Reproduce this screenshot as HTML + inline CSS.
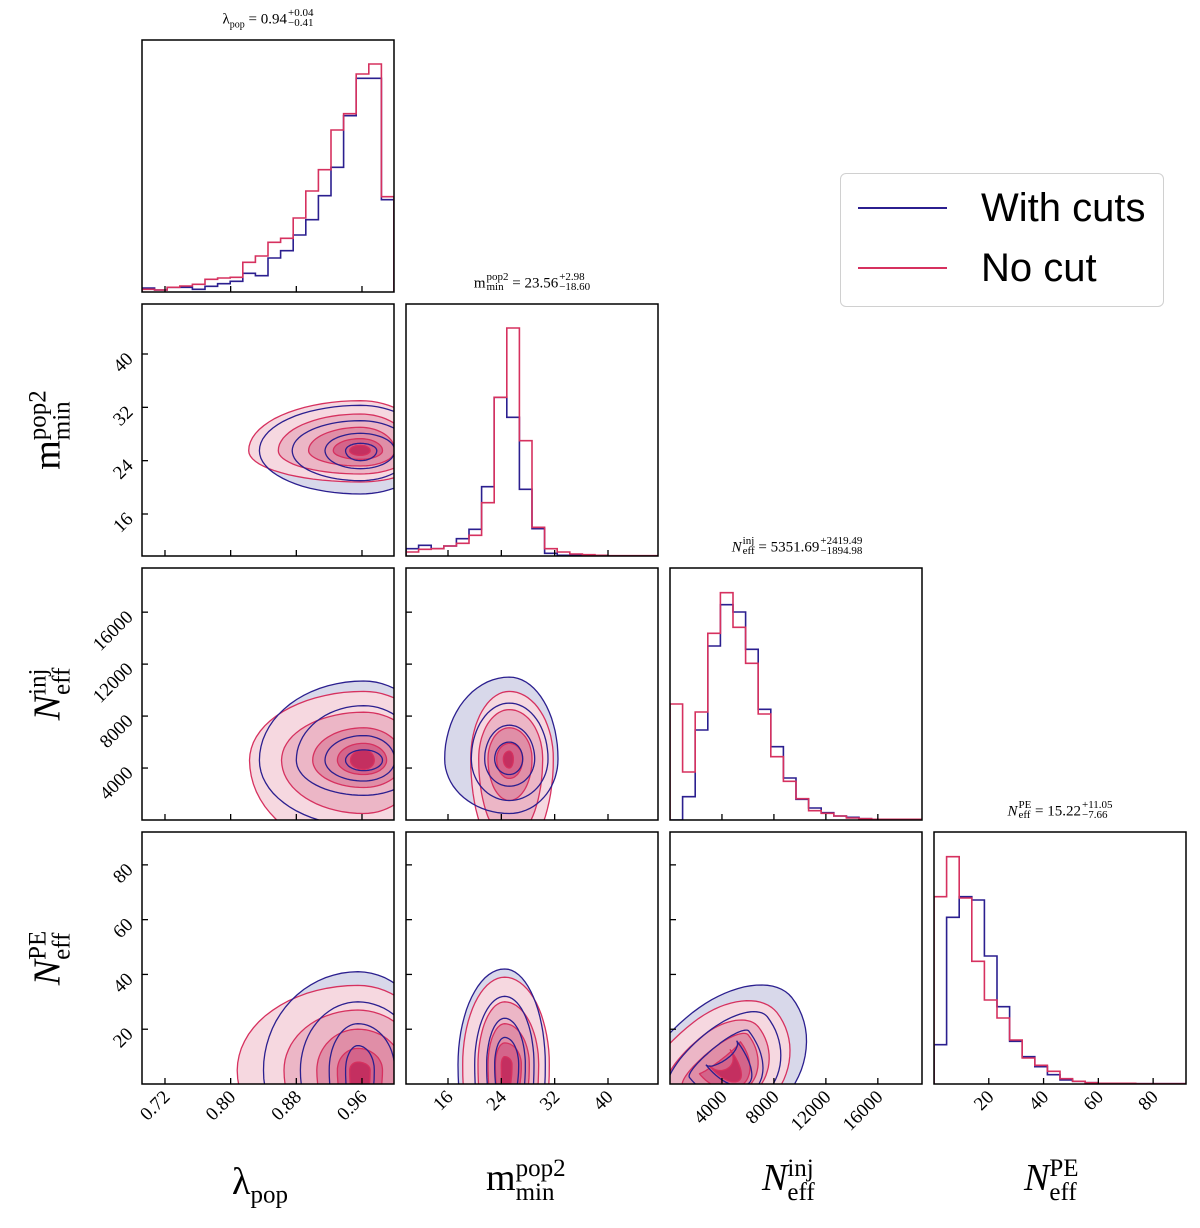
<!DOCTYPE html>
<html><head><meta charset="utf-8">
<style>
html,body{margin:0;padding:0;background:#fff;}
body{width:1200px;height:1228px;position:relative;overflow:hidden;font-family:"Liberation Serif",serif;}
.t{position:absolute;font-size:15px;white-space:nowrap;transform:translateX(-50%);color:#000;}
.t sub.s{font-size:10px;}
.pm{display:inline-block;vertical-align:middle;line-height:10px;font-size:11px;margin-left:1px;position:relative;top:-2px}
.pm span{display:block}
.lab{position:absolute;font-size:38px;white-space:nowrap;color:#000;}
.lab .ss{display:inline-block;vertical-align:middle;line-height:24px;font-size:25px;}
.lab .ss span{display:block}
.legend{position:absolute;left:840px;top:173px;width:324px;height:134px;border:1.5px solid #d0d0d0;border-radius:6px;background:#fff;box-sizing:border-box;}
.legend .ln{position:absolute;left:17px;width:89px;height:1.6px;}
.legend .tx{position:absolute;left:140px;font-family:"Liberation Sans",sans-serif;font-size:40px;color:#000;}
</style></head>
<body>
<svg id="chart" width="1200" height="1228" style="position:absolute;left:0;top:0"></svg>

<div class="t" style="left:268px;top:10px">λ<sub class="s">pop</sub> = 0.94<span class="pm"><span>+0.04</span><span>−0.41</span></span></div>
<div class="t" style="left:532px;top:274px">m<span class="pm"><span>pop2</span><span>min</span></span> = 23.56<span class="pm"><span>+2.98</span><span>−18.60</span></span></div>
<div class="t" style="left:797px;top:538px"><i>N</i><span class="pm"><span>inj</span><span>eff</span></span> = 5351.69<span class="pm"><span>+2419.49</span><span>−1894.98</span></span></div>
<div class="t" style="left:1060px;top:802px"><i>N</i><span class="pm"><span>PE</span><span>eff</span></span> = 15.22<span class="pm"><span>+11.05</span><span>−7.66</span></span></div>

<div class="lab" style="left:232px;top:1160px">λ<sub style="font-size:25px">pop</sub></div>
<div class="lab" style="left:486px;top:1156px">m<span class="ss"><span>pop2</span><span>min</span></span></div>
<div class="lab" style="left:762px;top:1156px"><i>N</i><span class="ss"><span>inj</span><span>eff</span></span></div>
<div class="lab" style="left:1024px;top:1156px"><i>N</i><span class="ss"><span>PE</span><span>eff</span></span></div>

<div class="lab" style="left:50px;top:430px;transform:translate(-50%,-50%) rotate(-90deg)">m<span class="ss"><span>pop2</span><span>min</span></span></div>
<div class="lab" style="left:50px;top:694px;transform:translate(-50%,-50%) rotate(-90deg)"><i>N</i><span class="ss"><span>inj</span><span>eff</span></span></div>
<div class="lab" style="left:50px;top:958px;transform:translate(-50%,-50%) rotate(-90deg)"><i>N</i><span class="ss"><span>PE</span><span>eff</span></span></div>

<div class="legend">
  <div class="ln" style="top:33px;background:#2b1f8f"></div>
  <div class="tx" style="top:12px">With cuts</div>
  <div class="ln" style="top:93px;background:#d6315f"></div>
  <div class="tx" style="top:72px">No cut</div>
</div>

<script>
// ---- data ----
const dimNames = ["lambda","mmin","ninj","npe"];
const dimMin = [0.692, 9.7, 0, 0];
const dimMax = [0.999, 47.5, 19400, 92];
const tickVals0 = [0.72, 0.80, 0.88, 0.96];
const tickVals1 = [16, 24, 32, 40];
const tickVals2 = [4000, 8000, 12000, 16000];
const tickVals3 = [20, 40, 60, 80];
const tickLabels0 = ["0.72","0.80","0.88","0.96"];
const tickLabels1 = ["16","24","32","40"];
const tickLabels2 = ["4000","8000","12000","16000"];
const tickLabels3 = ["20","40","60","80"];

// histograms (20 bins each, arbitrary density units, full scale = 756)
const histLambdaBlue = [12,6,14,14,8,17,25,32,56,49,102,124,171,217,289,374,529,641,641,277];
const histLambdaRed  = [8,6,14,18,23,38,42,44,89,108,149,161,222,303,367,486,535,654,684,286];
const histMminBlue = [22,32,22,30,52,80,208,476,416,200,82,8,2,2,0,0,0,0,0,0];
const histMminRed  = [12,20,22,30,38,62,160,476,684,346,86,22,12,6,4,2,1,1,1,1];
const histNinjBlue = [0,70,270,522,646,624,512,332,220,126,62,36,22,12,8,4,2,2,2,2];
const histNinjRed  = [348,144,324,560,682,578,470,318,190,116,64,28,20,12,6,4,2,2,2,2];
const histNpeBlue = [118,500,562,552,384,232,128,82,52,28,12,8,4,2,2,2,1,1,1,1];
const histNpeRed  = [562,682,558,368,252,198,132,78,56,38,16,8,4,2,2,2,1,1,1,1];

// contour panels: [xDim, yDim], centres (data), rotation (deg)
const pairX = [0,0,1,0,1,2];
const pairY = [1,2,2,3,3,3];
const centerRedX = [0.958, 0.962, 25.2, 0.955, 24.5, 3900];
const centerRedY = [25.5, 4600, 4700, 5, 7, 10];
const centerBlueX = [0.958, 0.962, 25.2, 0.955, 24.5, 4100];
const centerBlueY = [25.5, 4600, 4700, 5, 7, 12];
const rotation = [0,0,0,0,0,-38];
// levels outer->inner : [left, right, down, up] extents in data units
const redLevels = [
 [[0.822,1.04,20.8,33.0],[0.858,1.02,22.0,31.0],[0.895,1.0,23.2,29.0],[0.925,0.985,24.2,27.3],[0.945,0.97,24.8,26.3]],
 [[0.823,1.05,-2500,9900],[0.862,1.03,500,8300],[0.90,1.01,2500,7100],[0.93,0.99,3500,5900],[0.946,0.975,3900,5400]],
 [[19.4,31.8,-3000,9900],[20.6,30.2,-1500,8500],[22.0,28.6,1500,7100],[23.3,27.2,3200,5900],[24.3,25.8,4000,5300]],
 [[0.808,1.05,-30,36],[0.865,1.03,-25,27],[0.905,1.01,-20,20],[0.93,0.985,-15,13],[0.945,0.97,-10,8]],
 [[18.2,31.2,-40,39],[20.5,29.6,-30,30],[22.0,28.2,-20,22],[23.1,27.0,-10,15],[24.0,25.6,-5,10]],
 [[-4000,9400,-14,26],[-1500,7600,-8,20],[200,6600,-5,14],[1800,5800,-3,9],[2800,4800,-1,5]]
];
const blueLevels = [
 [[0.835,1.04,19.0,32.3],[0.875,1.02,21.0,30.0],[0.915,1.0,22.8,28.1],[0.94,0.978,24.0,26.6]],
 [[0.835,1.05,-500,10700],[0.88,1.03,1900,8800],[0.915,1.0,3000,6500],[0.94,0.985,3800,5400]],
 [[15.5,32.5,500,11000],[19.5,31.0,1500,9000],[21.5,29.0,2600,7300],[23.0,27.2,3500,6000]],
 [[0.84,1.05,-30,41],[0.885,1.03,-25,30],[0.92,1.0,-20,22],[0.94,0.975,-15,14]],
 [[17.5,30.6,-40,42],[20.0,28.9,-30,32],[21.8,27.6,-20,24],[23.0,26.6,-10,17]],
 [[-4000,10800,-16,30],[-1200,8400,-10,21],[800,6600,-6,15],[2400,5400,-3,9]]
];

// ---- layout / drawing ----
const NS = "http://www.w3.org/2000/svg";
const svg = document.getElementById("chart");
const P0X = 142, P0Y = 40, PW = 252, STEP = 264;
const BLUE = "#2b1f8f", RED = "#d6315f";
const redFills = ["#f6d8e0","#ecb6c6","#e08ea7","#d4648a","#c42f60"];
const blueFill = "#d8d8ea";
const ticksV = [tickVals0,tickVals1,tickVals2,tickVals3];
const ticksL = [tickLabels0,tickLabels1,tickLabels2,tickLabels3];
const hists = [[histLambdaBlue,histLambdaRed],[histMminBlue,histMminRed],[histNinjBlue,histNinjRed],[histNpeBlue,histNpeRed]];

function px(d, c, v){ return P0X + c*STEP + (v-dimMin[d])/(dimMax[d]-dimMin[d])*PW; }
function py(d, r, v){ return P0Y + r*STEP + PW - (v-dimMin[d])/(dimMax[d]-dimMin[d])*PW; }
function mk(tag, attrs, parent){ const e=document.createElementNS(NS,tag); for(const k in attrs) e.setAttribute(k,attrs[k]); (parent||svg).appendChild(e); return e; }

const defs = mk("defs",{});
function clipFor(r,c){
  const id="clip"+r+c;
  const cp=mk("clipPath",{id:id},defs);
  mk("rect",{x:P0X+c*STEP,y:P0Y+r*STEP,width:PW,height:PW},cp);
  return "url(#"+id+")";
}

function drawHist(c){
  const g = mk("g",{"clip-path":clipFor(c,c)});
  
  
  [0,1].forEach(s=>{
    const vals = hists[c][s], n = vals.length;
    const bw = (dimMax[c]-dimMin[c])/n;
    const base = P0Y + c*STEP + PW;
    let d = "M"+px(c,c,dimMin[c])+","+base;
    for(let i=0;i<n;i++){
      const y = base - vals[i]/756*PW;
      d += " L"+px(c,c,dimMin[c]+i*bw)+","+y+" L"+px(c,c,dimMin[c]+(i+1)*bw)+","+y;
    }
    d += " L"+px(c,c,dimMax[c])+","+base;
    const p = mk("path",{d:d,fill:"none",stroke:s?RED:BLUE,"stroke-width":1.6},g);
    
    
  });
}

function shape(k, lev, cxv, cyv){
  const xd=pairX[k], yd=pairY[k], r=yd, c=xd;
  const cx=px(xd,c,cxv), cy=py(yd,r,cyv);
  const L=cx-px(xd,c,lev[0]), R=px(xd,c,lev[1])-cx, D=py(yd,r,lev[2])-cy, U=cy-py(yd,r,lev[3]);
  const a=rotation[k]*Math.PI/180, ca=Math.cos(a), sa=Math.sin(a);
  let d="";
  for(let i=0;i<=72;i++){
    const t=i/72*2*Math.PI, co=Math.cos(t), si=Math.sin(t);
    const x=co*(co>=0?R:L), y=-si*(si>=0?U:D);
    const X=cx+x*ca-y*sa, Y=cy+x*sa+y*ca;
    d+=(i?" L":"M")+X.toFixed(1)+","+Y.toFixed(1);
  }
  return d+"Z";
}

function drawContour(k){
  const r=pairY[k], c=pairX[k];
  const g = mk("g",{"clip-path":clipFor(r,c)});
  
  
  const bl=blueLevels[k], rl=redLevels[k];
  const bo = mk("path",{d:shape(k,bl[0],centerBlueX[k],centerBlueY[k]),fill:blueFill},g);
  
  
  rl.forEach((lev,i)=>{
    const p = mk("path",{d:shape(k,lev,centerRedX[k],centerRedY[k]),fill:redFills[i],stroke:RED,"stroke-width":1.3},g);
    
    
  });
  bl.forEach((lev,i)=>{
    const p = mk("path",{d:shape(k,lev,centerBlueX[k],centerBlueY[k]),fill:"none",stroke:BLUE,"stroke-width":1.3},g);
    
    
  });
}

for(let c=0;c<4;c++) drawHist(c);
for(let k=0;k<6;k++) drawContour(k);

// frames and ticks
for(let r=0;r<4;r++) for(let c=0;c<=r;c++){
  const x0=P0X+c*STEP, y0=P0Y+r*STEP;
  const f = mk("rect",{x:x0,y:y0,width:PW,height:PW,fill:"none",stroke:"#000","stroke-width":1.5});
  
  
  ticksV[c].forEach((v,i)=>{
    const x=px(c,c,v);
    mk("line",{x1:x,x2:x,y1:y0+PW,y2:y0+PW-6,stroke:"#000","stroke-width":1.3});
    if(r===3){
      const t=mk("text",{x:x+6,y:y0+PW+14,"text-anchor":"end","font-size":19,"font-family":"Liberation Serif, serif",transform:"rotate(-45 "+(x+6)+" "+(y0+PW+14)+")"});
      t.textContent=ticksL[c][i];
      
      
    }
  });
  if(r!==c){
    ticksV[r].forEach((v,i)=>{
      const y=py(r,r,v);
      mk("line",{x1:x0,x2:x0+6,y1:y,y2:y,stroke:"#000","stroke-width":1.3});
      if(c===0){
        const t=mk("text",{x:x0-8,y:y+6,"text-anchor":"end","font-size":19,"font-family":"Liberation Serif, serif",transform:"rotate(-45 "+(x0-8)+" "+(y+6)+")"});
        t.textContent=ticksL[r][i];
        
        
      }
    });
  }
}
</script>
</body></html>
